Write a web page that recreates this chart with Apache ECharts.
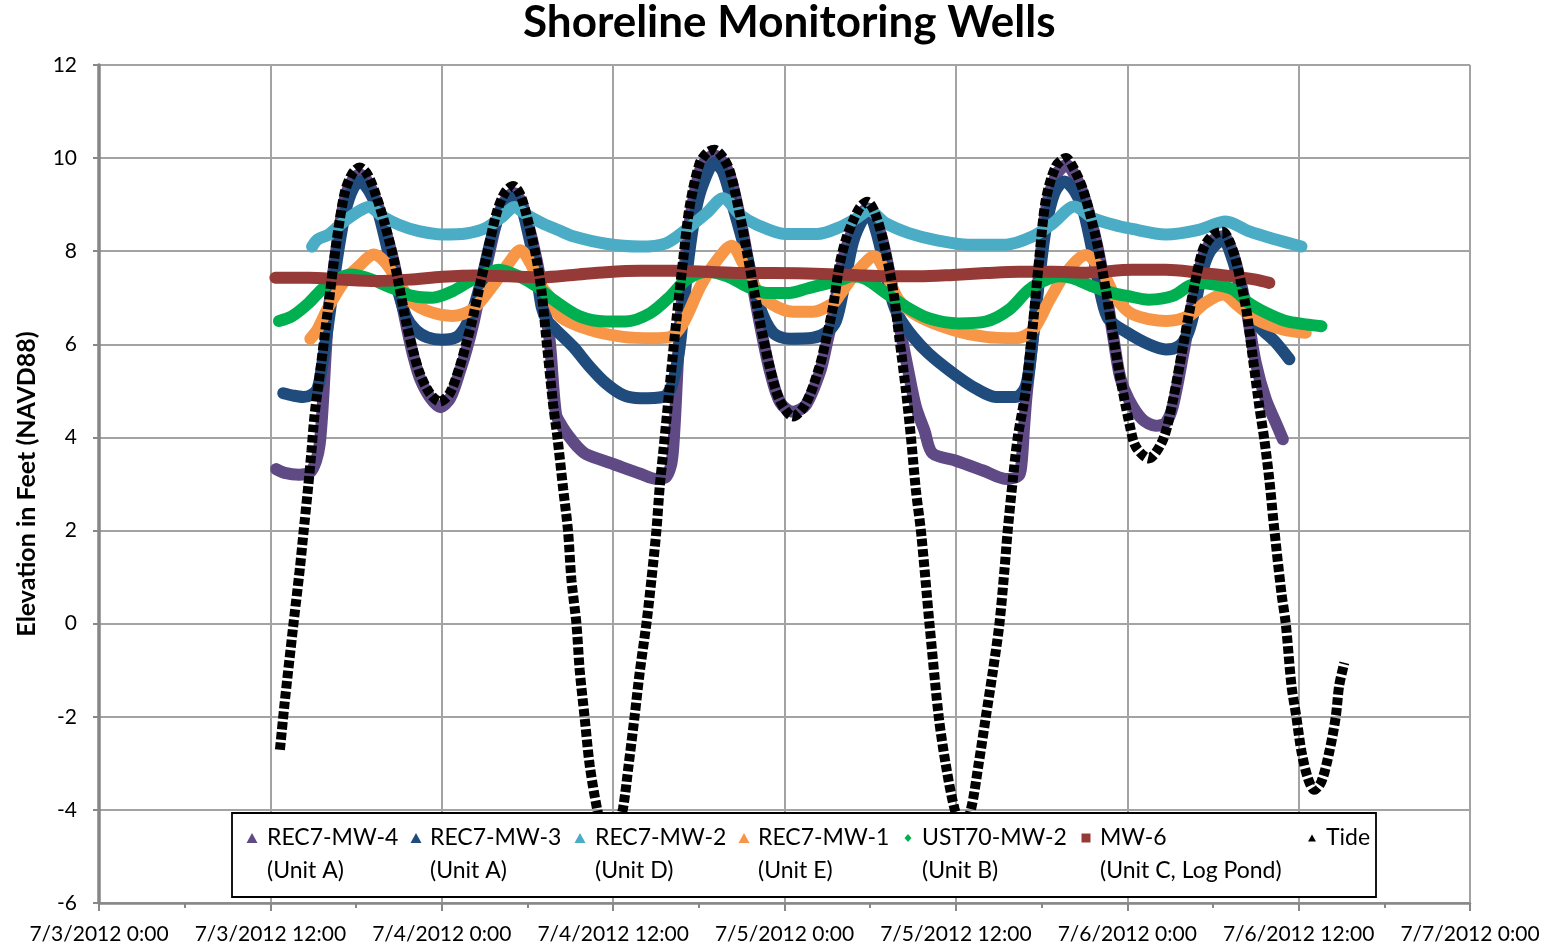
<!DOCTYPE html>
<html>
<head>
<meta charset="utf-8">
<script src="https://cdn.jsdelivr.net/npm/echarts@6/dist/echarts.min.js"></script>
<style>
  html, body { margin: 0; padding: 0; background: #ffffff; }
  #chart { width: 1552px; height: 947px; }
</style>
</head>
<body>
<div id="chart"></div>
<script>
// Time axis: hours after 7/3/2012 0:00, labelled every 12 hours
const xTickLabels = ['7/3/2012 0:00', '7/3/2012 12:00', '7/4/2012 0:00', '7/4/2012 12:00',
  '7/5/2012 0:00', '7/5/2012 12:00', '7/6/2012 0:00', '7/6/2012 12:00', '7/7/2012 0:00'];

const seriesNames = ['REC7-MW-4', 'REC7-MW-3', 'REC7-MW-2', 'REC7-MW-1', 'UST70-MW-2', 'MW-6', 'Tide'];
const unitLabels  = ['(Unit A)', '(Unit A)', '(Unit D)', '(Unit E)', '(Unit B)', '(Unit C, Log Pond)', ''];

// Each point: [hours after 7/3/2012 0:00, elevation in feet NAVD88]
const rec7mw4 = [[12.4,3.32],[13.0,3.24],[14.0,3.2],[14.8,3.26],[15.2,3.5],[15.45,3.85],[15.65,4.6],[16.05,6.6],
  [16.63,8.05],[17.2,9.1],[17.7,9.5],[18.25,9.65],[18.8,9.5],[19.45,9.05],[20.0,8.5],[20.65,7.75],[21.1,7.05],
  [21.6,6.3],[22.05,5.7],[22.5,5.25],[23.2,4.85],[23.9,4.65],[24.6,4.85],[25.3,5.45],[25.75,5.9],[26.25,6.5],
  [26.7,7.15],[27.2,7.8],[27.9,8.7],[28.45,9.1],[29.05,9.25],[29.5,9.1],[29.95,8.7],[30.65,7.8],[31.05,7.1],
  [31.55,6.1],[32.0,4.5],[32.4,4.25],[32.96,4.0],[33.5,3.8],[34.1,3.64],[36.0,3.43],[37.9,3.22],[39.0,3.11],
  [39.7,3.15],[40.05,3.4],[40.2,3.75],[40.35,4.5],[40.6,6.0],[41.0,7.6],[41.45,8.8],[42.1,9.75],[42.65,10.0],
  [43.15,10.05],[43.65,9.92],[44.2,9.6],[44.9,8.7],[45.6,7.55],[46.3,6.4],[47.0,5.4],[47.7,4.75],[48.6,4.55],
  [49.5,4.7],[50.5,5.42],[50.95,6.0],[51.45,6.7],[51.9,7.55],[52.35,8.1],[52.85,8.5],[53.35,8.8],[53.85,8.92],
  [54.35,8.72],[54.95,8.12],[55.65,7.05],[56.3,6.0],[56.7,5.38],[57.2,4.66],[57.8,4.15],[58.36,3.66],[60.0,3.5],
  [61.9,3.29],[63.5,3.11],[64.4,3.18],[64.6,3.45],[64.75,4.1],[64.95,4.9],[65.45,6.3],[65.9,7.75],[66.35,8.95],
  [67.05,9.65],[67.75,9.85],[68.35,9.62],[68.95,9.2],[69.85,8.18],[70.55,7.05],[71.05,6.1],[71.5,5.3],[72.1,4.82],
  [73.05,4.39],[74.0,4.25],[74.7,4.32],[75.2,4.68],[75.95,5.85],[76.65,7.0],[77.35,7.92],[78.05,8.25],[78.75,8.32],
  [79.15,8.15],[79.65,7.7],[80.35,6.75],[81.0,5.6],[81.7,4.82],[82.4,4.32],[82.9,3.96]];

const rec7mw3 = [[12.9,4.95],[13.6,4.9],[14.3,4.87],[14.9,4.92],[15.3,5.05],[15.6,5.5],[16.1,6.55],[16.65,7.8],
  [17.25,8.85],[17.8,9.35],[18.3,9.5],[18.9,9.3],[19.5,8.9],[20.2,8.05],[20.9,7.2],[21.5,6.6],[22.2,6.3],[23.0,6.15],
  [24.0,6.1],[25.0,6.15],[25.6,6.35],[26.2,6.75],[26.8,7.4],[27.5,8.3],[28.2,8.9],[28.9,9.15],[29.5,9.0],[29.9,8.6],
  [30.6,7.6],[31.0,6.8],[31.4,6.5],[32.0,6.31],[33.2,5.95],[34.36,5.52],[35.5,5.16],[36.7,4.91],[37.9,4.84],
  [39.5,4.87],[40.1,5.1],[40.64,5.9],[41.0,7.0],[41.3,7.9],[41.8,8.9],[42.3,9.45],[43.1,9.9],[43.7,9.7],[44.4,8.96],
  [45.3,7.96],[46.25,6.82],[47.2,6.25],[48.35,6.12],[50.0,6.14],[50.9,6.25],[51.6,6.5],[52.2,7.3],[52.8,8.2],
  [53.5,8.7],[53.9,8.8],[54.4,8.45],[55.0,7.7],[55.5,7.0],[56.0,6.6],[57.0,6.16],[58.1,5.8],[59.8,5.38],[61.4,5.05],
  [62.8,4.87],[64.2,4.87],[64.9,5.1],[65.3,5.9],[65.8,7.3],[66.3,8.5],[66.9,9.25],[67.6,9.5],[68.3,9.3],[68.9,8.9],
  [69.6,7.95],[70.2,7.0],[70.7,6.54],[72.0,6.25],[73.5,6.0],[74.7,5.89],[75.6,5.96],[76.2,6.2],[76.6,6.6],[77.2,7.5],
  [77.8,8.0],[78.7,8.25],[79.4,7.8],[80.1,7.04],[81.2,6.4],[82.4,6.04],[83.35,5.68]];

const rec7mw2 = [[14.92,8.1],[15.3,8.25],[16.1,8.36],[17.0,8.6],[18.2,8.86],[18.9,8.95],[19.84,8.75],[21.0,8.57],
  [22.4,8.43],[24.05,8.36],[25.7,8.38],[27.1,8.5],[28.26,8.75],[29.08,8.95],[29.9,8.79],[31.06,8.6],[32.2,8.45],
  [33.2,8.32],[35.5,8.16],[37.9,8.1],[39.7,8.17],[41.1,8.46],[42.55,8.82],[43.7,9.14],[44.9,8.78],[46.06,8.57],
  [48.05,8.37],[50.3,8.37],[51.9,8.52],[53.0,8.7],[53.9,8.87],[55.1,8.6],[56.7,8.39],[58.6,8.24],[60.9,8.14],
  [63.5,8.14],[65.4,8.32],[66.8,8.6],[68.3,8.96],[69.6,8.71],[71.5,8.53],[72.0,8.5],[74.7,8.36],[77.0,8.46],
  [78.9,8.64],[80.5,8.43],[82.4,8.25],[84.2,8.1]];

const rec7mw1 = [[14.8,6.12],[15.3,6.32],[16.1,6.82],[17.26,7.39],[18.2,7.68],[19.25,7.93],[20.07,7.75],[21.0,7.32],
  [21.95,6.9],[23.35,6.68],[24.75,6.61],[26.15,6.75],[27.55,7.25],[28.7,7.75],[29.5,8.02],[30.2,7.75],[30.85,7.3],
  [31.77,6.92],[32.26,6.6],[34.36,6.31],[36.7,6.16],[38.8,6.13],[40.0,6.16],[40.9,6.45],[42.1,7.24],[43.25,7.8],
  [44.3,8.12],[45.1,7.74],[46.06,7.17],[47.2,6.85],[48.6,6.7],[50.0,6.7],[51.4,6.88],[51.8,7.03],[53.0,7.53],
  [54.3,7.89],[55.1,7.53],[56.0,6.95],[57.4,6.6],[59.8,6.31],[62.1,6.16],[64.2,6.13],[65.4,6.31],[66.55,6.95],
  [67.7,7.53],[69.1,7.92],[70.3,7.53],[71.2,7.0],[72.35,6.65],[74.7,6.5],[76.3,6.61],[77.5,6.9],[78.7,7.07],
  [79.8,6.82],[81.0,6.54],[82.9,6.32],[84.5,6.25]];

const ust70mw2 = [[12.6,6.5],[13.5,6.6],[14.7,6.89],[15.6,7.18],[16.56,7.39],[17.7,7.5],[19.1,7.39],[20.5,7.21],
  [21.95,7.04],[23.35,7.0],[24.75,7.14],[26.15,7.39],[27.55,7.57],[28.0,7.6],[29.4,7.46],[30.6,7.25],[31.8,6.96],
  [33.66,6.6],[35.5,6.49],[36.9,6.49],[38.6,6.67],[40.0,7.03],[41.1,7.38],[42.55,7.56],[44.0,7.46],[45.4,7.24],
  [46.8,7.1],[48.2,7.1],[49.6,7.2],[51.0,7.31],[51.9,7.38],[52.75,7.46],[53.7,7.4],[55.1,7.1],[56.5,6.81],[58.1,6.56],
  [60.2,6.45],[62.1,6.49],[63.7,6.74],[65.1,7.17],[66.3,7.38],[67.25,7.46],[68.2,7.42],[69.6,7.24],[71.0,7.1],
  [72.0,7.04],[73.5,6.96],[75.2,7.04],[76.3,7.25],[77.0,7.32],[78.0,7.29],[79.4,7.18],[80.5,6.89],[81.7,6.68],
  [83.1,6.5],[84.5,6.43],[85.6,6.39]];

const mw6 = [[12.35,7.43],[14.7,7.43],[17.0,7.39],[19.4,7.36],[21.7,7.39],[24.05,7.45],[26.4,7.48],[28.7,7.46],
  [31.0,7.44],[33.2,7.49],[35.5,7.55],[37.9,7.58],[40.2,7.58],[42.55,7.56],[44.9,7.53],[47.2,7.53],[49.6,7.52],
  [52.75,7.49],[55.1,7.46],[57.4,7.46],[59.8,7.49],[62.1,7.53],[64.4,7.56],[66.8,7.56],[69.1,7.54],[72.35,7.6],
  [74.7,7.6],[77.0,7.54],[79.4,7.46],[81.0,7.39],[81.95,7.32]];

const tide = [[12.67,-2.71],[13.0,-1.7],[13.6,-0.05],[14.07,1.2],[14.3,1.9],[14.65,2.95],[14.88,3.72],[15.1,4.5],
  [15.5,5.45],[16.05,6.8],[16.63,8.2],[17.2,9.25],[17.7,9.65],[18.25,9.8],[18.8,9.65],[19.43,9.17],[20.0,8.6],
  [20.6,7.88],[21.05,7.2],[21.53,6.45],[22.0,5.85],[22.46,5.38],[23.16,4.95],[23.86,4.77],[24.56,4.95],[25.26,5.52],
  [25.7,6.0],[26.2,6.6],[26.65,7.25],[27.13,7.88],[27.83,8.81],[28.4,9.25],[29.0,9.4],[29.45,9.25],[29.9,8.82],
  [30.6,7.9],[31.0,7.1],[31.33,6.1],[31.8,4.7],[32.1,4.0],[32.5,2.9],[32.84,2.0],[33.08,0.94],[33.43,0.0],
  [33.66,-1.0],[34.0,-2.0],[34.36,-3.04],[34.87,-3.97],[35.3,-4.5],[35.8,-4.75],[36.25,-4.5],[36.69,-3.97],
  [37.1,-3.0],[37.5,-2.0],[37.86,-1.05],[38.33,0.0],[38.68,0.94],[39.03,2.0],[39.26,2.93],[39.5,3.66],[39.96,5.09],
  [40.43,6.52],[40.9,7.81],[41.36,8.96],[42.06,9.89],[42.6,10.12],[43.1,10.18],[43.6,10.05],[44.15,9.74],
  [44.86,8.81],[45.56,7.67],[46.26,6.52],[46.96,5.52],[47.66,4.8],[48.6,4.45],[49.5,4.73],[50.45,5.52],[50.9,6.09],
  [51.4,6.81],[51.85,7.7],[52.3,8.25],[52.8,8.65],[53.3,8.95],[53.8,9.06],[54.3,8.85],[54.9,8.24],[55.6,7.17],
  [56.06,6.09],[56.5,5.02],[56.87,3.95],[57.2,2.87],[57.57,1.94],[58.15,0.0],[58.8,-2.0],[59.3,-3.04],[59.9,-3.97],
  [60.5,-4.45],[61.07,-3.97],[61.6,-3.0],[62.1,-2.0],[62.6,-1.0],[63.05,0.0],[63.4,1.15],[63.63,2.0],[63.98,3.07],
  [64.33,4.0],[64.9,5.02],[65.4,6.45],[65.85,7.88],[66.3,9.1],[67.0,9.82],[67.7,10.0],[68.3,9.75],[68.9,9.32],
  [69.8,8.3],[70.5,7.17],[71.0,6.2],[71.45,5.38],[72.15,4.3],[72.6,3.8],[73.5,3.55],[74.5,3.95],[75.2,4.8],
  [75.9,5.95],[76.6,7.1],[77.3,8.03],[78.0,8.35],[78.7,8.42],[79.1,8.25],[79.6,7.81],[80.3,6.81],[80.78,5.74],
  [81.25,4.66],[81.6,3.95],[81.95,3.09],[82.25,2.16],[82.8,0.65],[83.1,0.0],[83.5,-1.33],[83.84,-2.0],[84.2,-2.75],
  [84.65,-3.32],[85.1,-3.57],[85.6,-3.39],[86.15,-2.75],[86.6,-2.0],[86.84,-1.33],[87.2,-0.84]];

const wellData = [rec7mw4, rec7mw3, rec7mw2, rec7mw1, ust70mw2, mw6];
const wellColors = ['#604a85', '#1f4b7d', '#4bacc6', '#f79646', '#00b050', '#963a37'];

const FONT = 'Lato, "Open Sans", sans-serif';

function wellSeries(i) {
  return {
    name: seriesNames[i],
    type: 'line',
    data: wellData[i],
    smooth: 0.3,
    symbol: 'none',
    color: wellColors[i],
    itemStyle: { color: wellColors[i] },
    lineStyle: { color: wellColors[i], width: 12, cap: 'round', join: 'round' },
    emphasis: { disabled: true },
    silent: true
  };
}

const series = [0, 1, 2, 3, 4, 5].map(wellSeries);
// tide: a chain of short dashes, like a string of small markers
series.push({
  name: seriesNames[6], type: 'line', data: tide, smooth: 0.3, symbol: 'none',
  color: '#000', itemStyle: { color: '#000' },
  lineStyle: { color: '#000', width: 10, type: [7.5, 2.8], cap: 'butt' },
  emphasis: { disabled: true }, silent: true
});

// legend entries: icon shape/size, icon centre x, text start x
const legendIcons = [
  { icon: 'triangle', w: 11, h: 10 }, { icon: 'triangle', w: 11, h: 10 }, { icon: 'triangle', w: 11, h: 10 },
  { icon: 'triangle', w: 11, h: 10 }, { icon: 'diamond', w: 7, h: 8 }, { icon: 'rect', w: 9, h: 9 },
  { icon: 'triangle', w: 8, h: 7 }
];
const legendCenters = [252, 416, 580, 744, 908, 1086, 1312];
const legendTextX = [267, 430, 595, 758, 922, 1100, 1326];
const LEGEND_ROW_Y = 838;
const LINE_H = 33;

const legends = seriesNames.map((name, i) => {
  const ic = legendIcons[i];
  const twoLine = unitLabels[i] !== '';
  const padLeft = legendTextX[i] - (legendCenters[i] + ic.w / 2 + 5);
  // a blank leading line keeps the icon level with the well name
  const textH = twoLine ? LINE_H * 3 : LINE_H;
  return {
    data: [name],
    left: legendCenters[i] - ic.w / 2,
    top: LEGEND_ROW_Y - textH / 2,
    padding: 0,
    icon: ic.icon,
    itemWidth: ic.w,
    itemHeight: ic.h,
    selectedMode: false,
    z: 10,
    formatter: n => twoLine ? ' \n' + n + '\n' + unitLabels[i] : n,
    textStyle: {
      fontFamily: FONT, fontSize: 23, color: '#000', lineHeight: LINE_H,
      padding: [0, 0, 0, padLeft]
    }
  };
});

const chart = echarts.init(document.getElementById('chart'), null, { renderer: 'canvas' });
chart.setOption({
  animation: false,
  backgroundColor: '#ffffff',
  title: {
    text: 'Shoreline Monitoring Wells',
    left: 523,
    top: 1,
    padding: 0,
    textStyle: { fontFamily: FONT, fontWeight: 'bold', fontSize: 44, color: '#000' }
  },
  grid: { left: 99, right: 82, top: 65, bottom: 44, containLabel: false },
  xAxis: {
    type: 'value', min: 0, max: 96, interval: 12,
    axisLine: { show: true, onZero: false, lineStyle: { color: '#888', width: 2.5 } },
    axisTick: { show: true, length: 8, lineStyle: { color: '#888', width: 2 } },
    minorTick: { show: true, splitNumber: 2, length: 5, lineStyle: { color: '#888', width: 2 } },
    splitLine: { show: true, lineStyle: { color: '#a3a3a3', width: 2 } },
    axisLabel: {
      margin: 21, fontFamily: FONT, fontSize: 21, color: '#000',
      formatter: v => xTickLabels[Math.round(v / 12)]
    }
  },
  yAxis: {
    type: 'value', min: -6, max: 12, interval: 2,
    name: 'Elevation in Feet (NAVD88)',
    nameLocation: 'middle', nameGap: 60,
    nameTextStyle: { fontFamily: FONT, fontWeight: 'bold', fontSize: 25, color: '#000' },
    axisLine: { show: true, onZero: false, lineStyle: { color: '#868686', width: 3.5 } },
    axisTick: { show: true, length: 6, lineStyle: { color: '#888', width: 2 } },
    splitLine: { show: true, lineStyle: { color: '#a3a3a3', width: 2 } },
    axisLabel: { margin: 22, fontFamily: FONT, fontSize: 21, color: '#000' }
  },
  legend: legends,
  graphic: [{
    type: 'rect', z: 5,
    shape: { x: 232, y: 813, width: 1144, height: 84 },
    style: { fill: '#ffffff', stroke: '#000000', lineWidth: 1.8 }
  }],
  series: series
});
</script>
</body>
</html>
